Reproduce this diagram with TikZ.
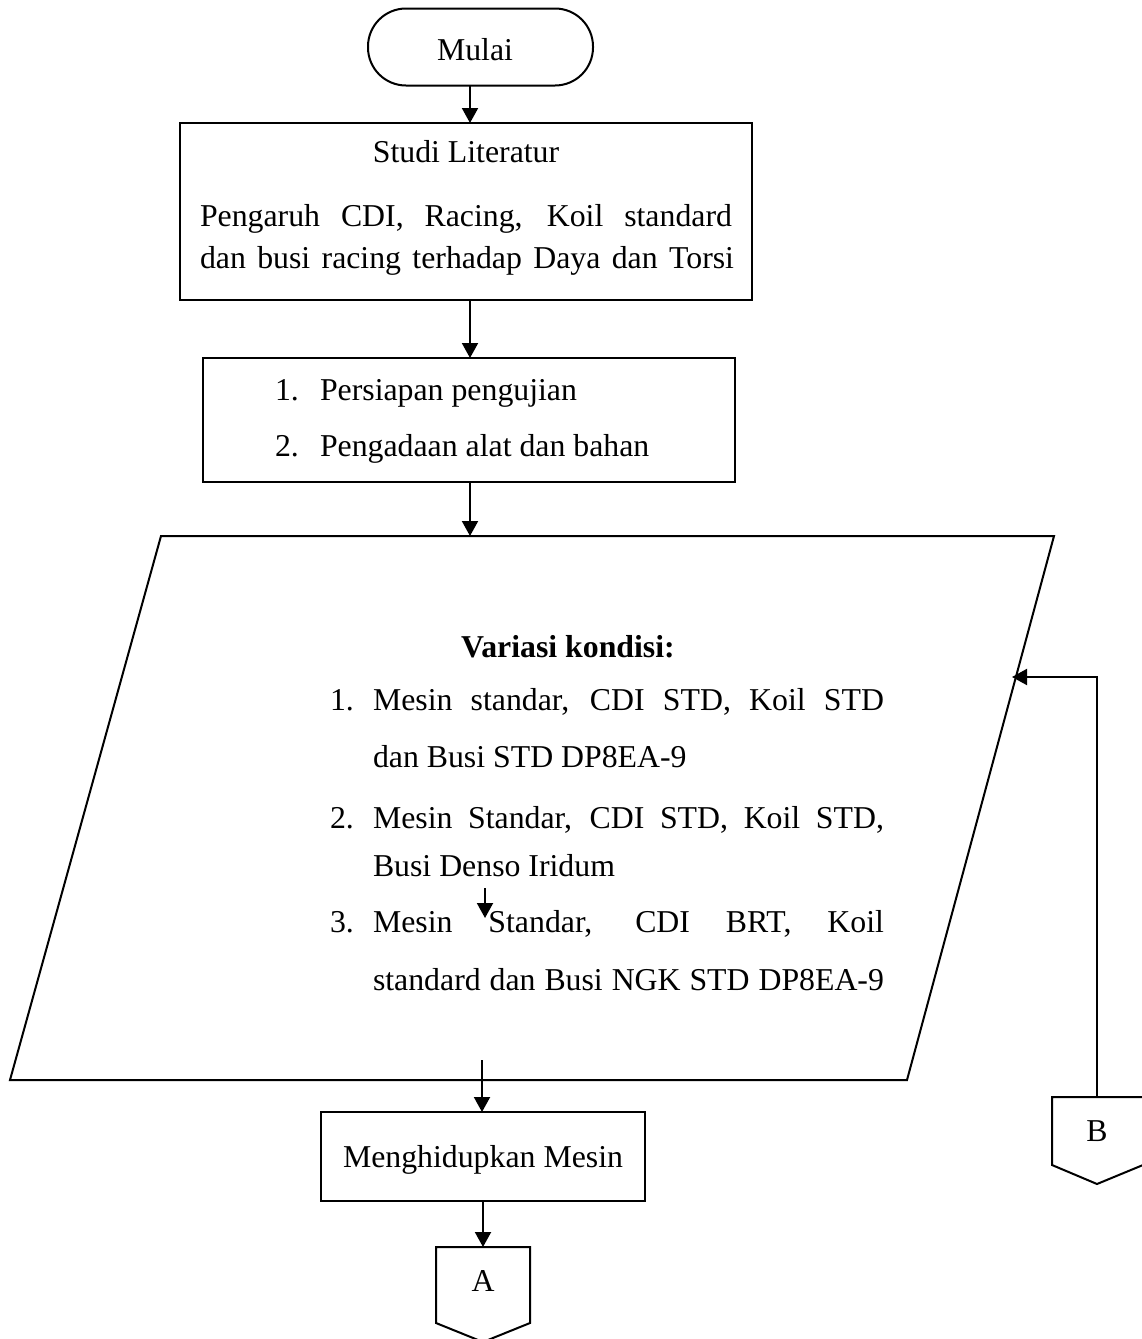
\documentclass[tikz,border=0pt]{standalone}
\usepackage{fontspec}
\setmainfont{Liberation Serif}
\usetikzlibrary{arrows.meta,calc}
\begin{document}
\begin{tikzpicture}[x=1pt,y=-1pt,
  every node/.style={font=\fontsize{31.8}{38}\selectfont, inner sep=0pt, outer sep=0pt},
  stroke/.style={line width=2pt},
  arr/.style={stroke, -{Triangle[length=15pt,width=16pt]}},
  box/.style={draw, stroke, rectangle, inner sep=0pt},
  txt/.style={anchor=base},
  ltxt/.style={anchor=base west},
]
\clip (0,0) rectangle (1142,1339);
\useasboundingbox (0,0) rectangle (1142,1339);

% ---- start terminator
\node[box, rounded corners=38pt, minimum width=225pt, minimum height=77pt] (mulai) at (480.5,47) {};
\node[txt] (tmulai) at (475,60) {Mulai};

% ---- literature study
\node[box, minimum width=572pt, minimum height=177pt] (studi) at (466,211.5) {};
\node[txt] (tstudi) at (466,162) {Studi Literatur};
\node[ltxt] (tstudia) at (200,226) {\makebox[532pt][s]{Pengaruh CDI, Racing, Koil standard}};
\node[ltxt] (tstudib) at (200,268) {\makebox[534pt][s]{dan busi racing terhadap Daya dan Torsi}};

% ---- preparation
\node[box, minimum width=532pt, minimum height=124pt] (prep) at (469,420) {};
\node[ltxt] (np1) at (275,400) {1.};
\node[ltxt] (tp1) at (320,400) {Persiapan pengujian};
\node[ltxt] (np2) at (275,456) {2.};
\node[ltxt] (tp2) at (320,456) {Pengadaan alat dan bahan};

% ---- input/output: variations
\coordinate (pTL) at (161,536);
\coordinate (pTR) at (1054,536);
\coordinate (pBR) at (907,1080);
\coordinate (pBL) at (10,1080);
\draw[stroke, line join=miter] (pTL) -- (pTR) -- (pBR) -- (pBL) -- cycle;
\coordinate (pIn) at (1012,677);

\node[txt, font=\fontsize{31.8}{38}\selectfont\bfseries] (tvar) at (568,657) {Variasi kondisi:};
\node[ltxt] (nv1) at (330,710) {1.};
\node[ltxt] (tv1a) at (373,710) {\makebox[511pt][s]{Mesin standar, CDI STD, Koil STD}};
\node[ltxt] (tv1b) at (373,767) {dan Busi STD DP8EA-9};
\node[ltxt] (nv2) at (330,828) {2.};
\node[ltxt] (tv2a) at (373,828) {\makebox[511pt][s]{Mesin Standar, CDI STD, Koil STD,}};
\node[ltxt] (tv2b) at (373,876) {Busi Denso Iridum};
\node[ltxt] (nv3) at (330,932) {3.};
\node[ltxt] (tv3a) at (373,932) {\makebox[511pt][s]{Mesin Standar, CDI BRT, Koil}};
\node[ltxt] (tv3b) at (373,990) {\makebox[511pt][s]{standard dan Busi NGK STD DP8EA-9}};

% ---- engine start
\node[box, minimum width=324pt, minimum height=89pt] (mesin) at (483,1156.5) {};
\node[txt] (tmesin) at (483,1167) {Menghidupkan Mesin};

% ---- off-page connectors
\draw[stroke, line join=miter] (436,1247) -- (530,1247) -- (530,1323) -- (483,1342) -- (436,1323) -- cycle;
\node[txt] (conA) at (483,1291) {A};
\coordinate (Atop) at (483,1247);

\draw[stroke, line join=miter] (1052,1097) -- (1143,1097) -- (1143,1165) -- (1097,1184) -- (1052,1165) -- cycle;
\node[txt] (conB) at (1097,1141) {B};
\coordinate (Btop) at (1097,1097);

% ---- connectors
\coordinate (c1) at (470,0);
\draw[arr] (mulai.south -| c1) -- (studi.north -| c1);
\draw[arr] (studi.south -| c1) -- (prep.north -| c1);
\draw[arr] (prep.south -| c1) -- (pTL -| c1);
\coordinate (sIn) at (482,1060);
\draw[arr] (sIn) -- (mesin.north -| sIn);
\draw[arr] (mesin.south -| Atop) -- (Atop);
\draw[arr] (Btop) |- (pIn);
\coordinate (sA) at (485,888);
\coordinate (sB) at (485,918);
\draw[arr] (sA) -- (sB);
\end{tikzpicture}
\end{document}
